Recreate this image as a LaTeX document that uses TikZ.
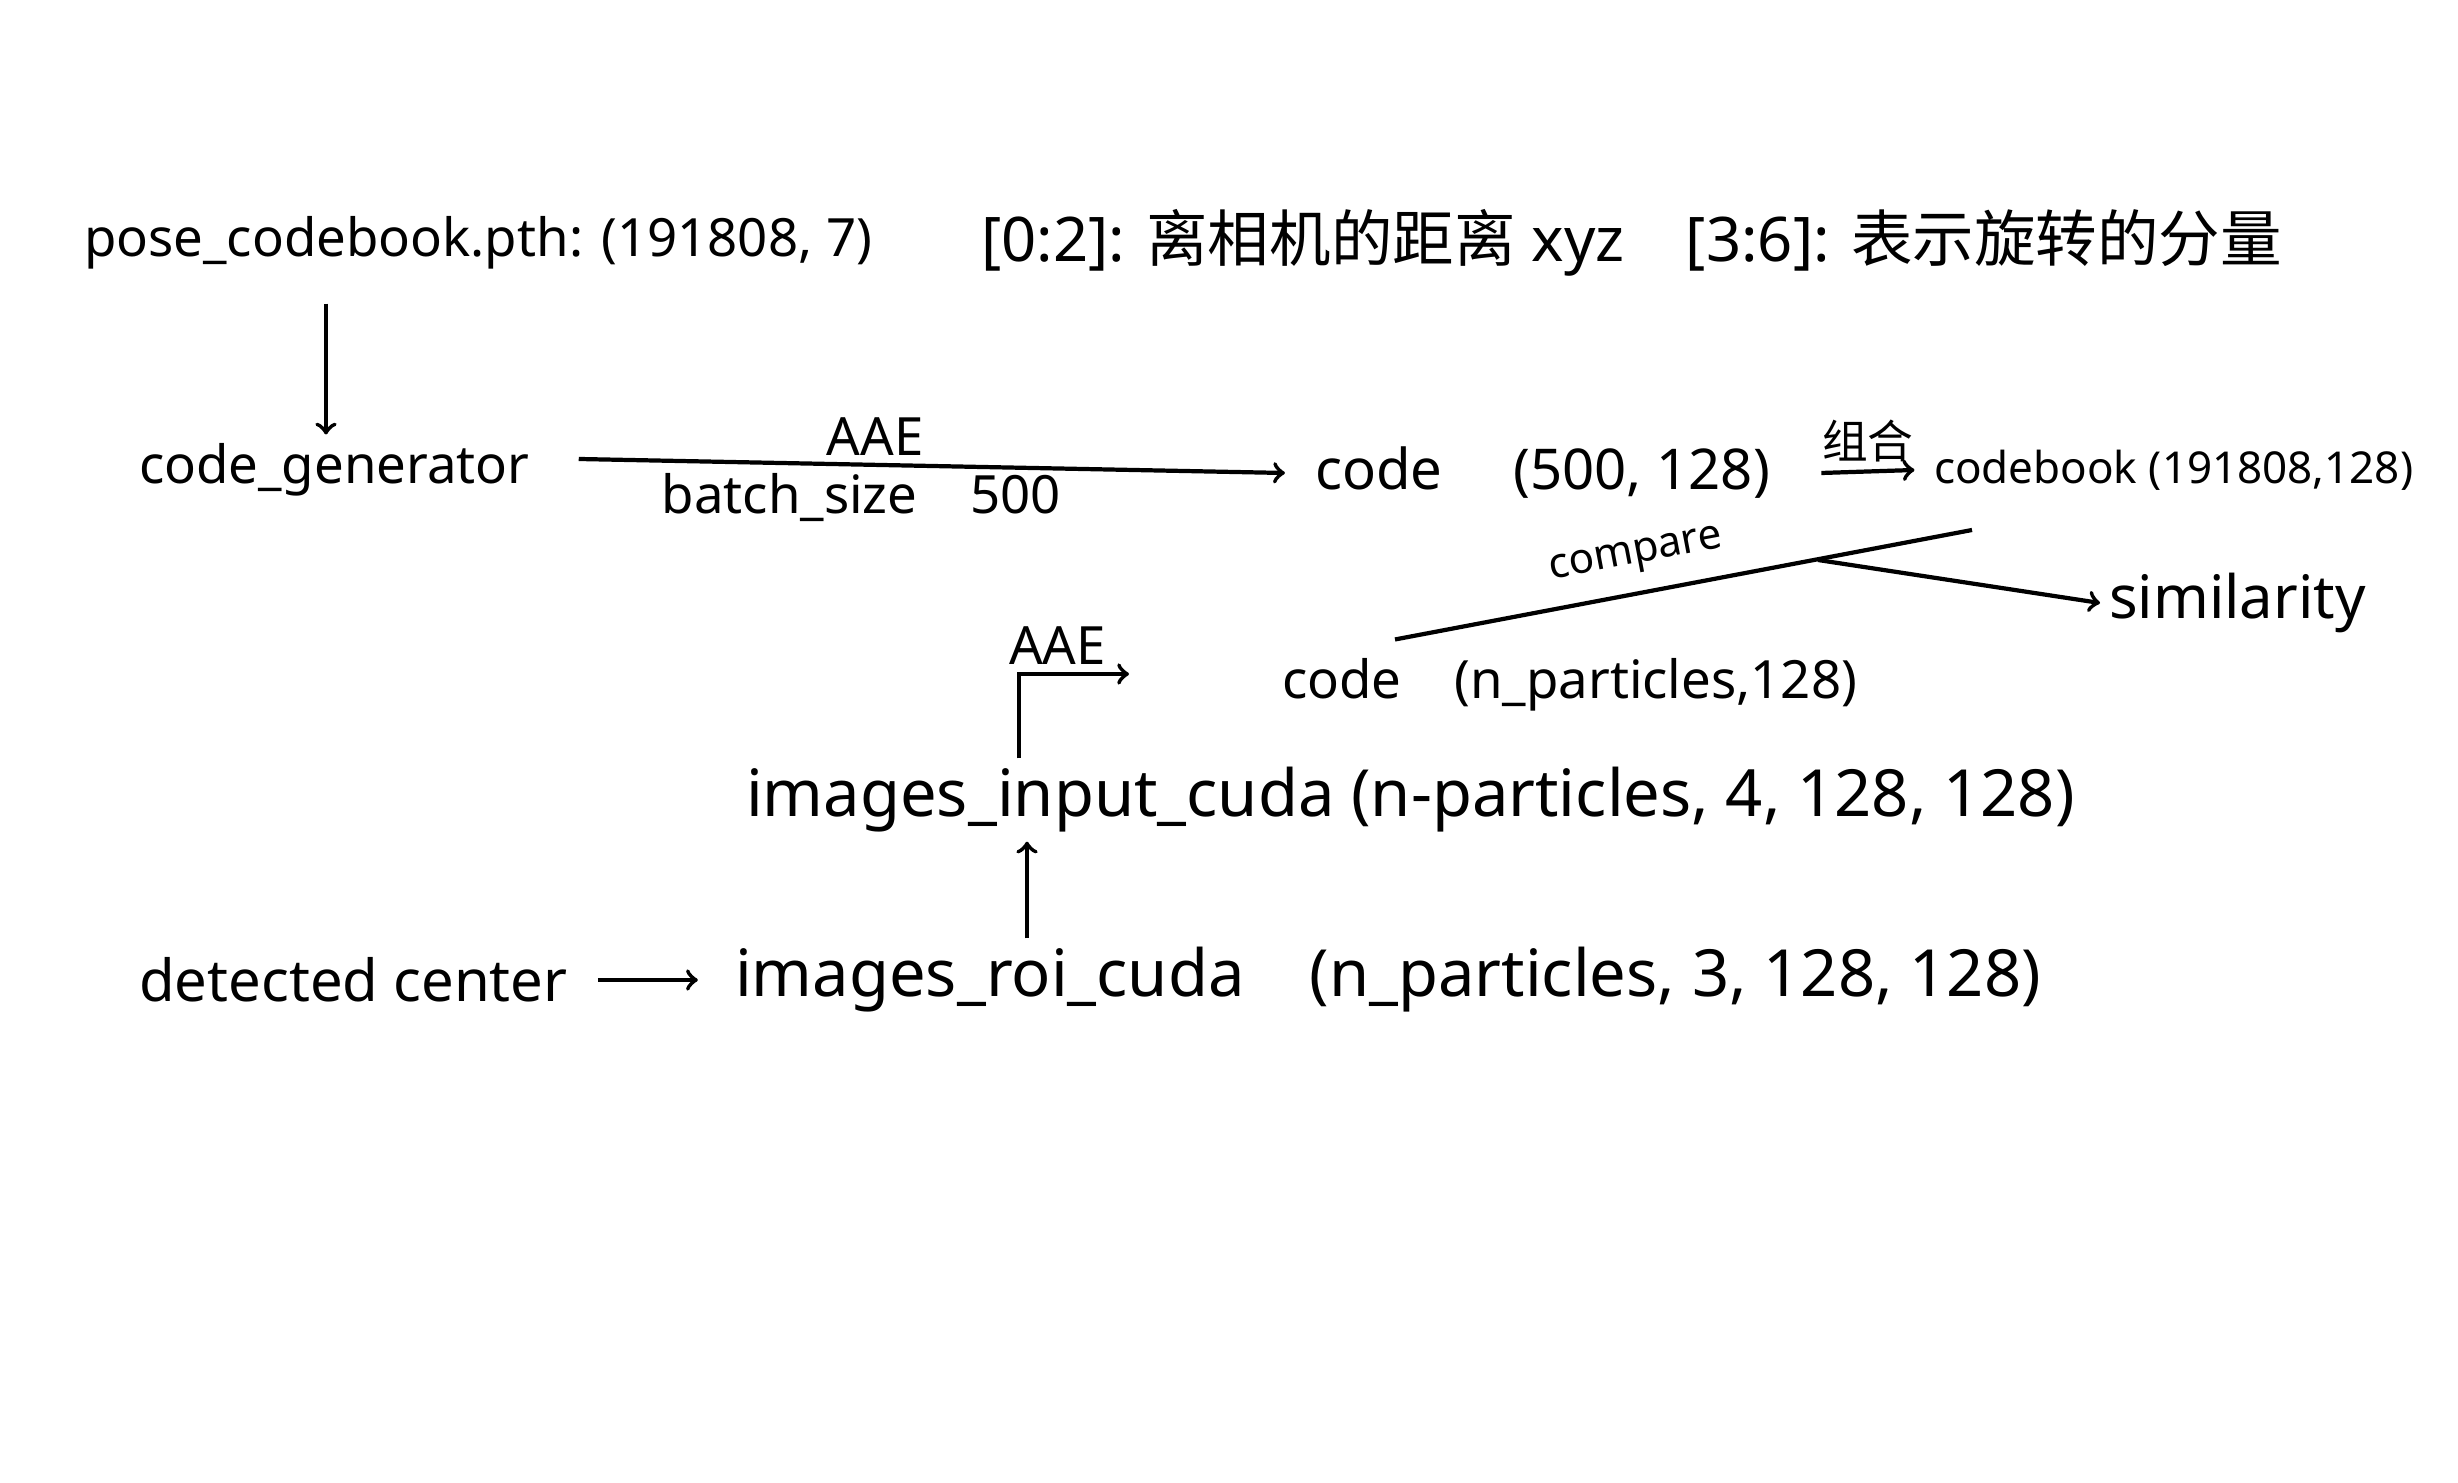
\documentclass[tikz,border=0pt]{standalone}
\usepackage{fontspec}
\setmainfont{Noto Sans}
\newfontfamily\cjk{Noto Sans CJK SC}
\usetikzlibrary{positioning}

\begin{document}
\begin{tikzpicture}[x=0.01cm, y=-0.01cm, line width=1.2pt,
  txt/.style={inner sep=2pt, font=\fontsize{#1}{#1}\selectfont}, txt/.default=15]
  \useasboundingbox (0,0) rectangle (2458,1483);

  \node[txt, anchor=west] (pose) at (75,243) {pose\_codebook.pth: (191808, 7)};
  \node[txt=17.5, anchor=west] (note) at (972,243) {[0:2]: {\cjk 离相机的距离} xyz\quad [3:6]: {\cjk 表示旋转的分量}};
  \node[txt, anchor=west] (gen) at (130,470) {code\_generator};
  \node[txt=16, anchor=west] (code1) at (1306,473) {code\quad\ (500, 128)};
  \node[txt=12.5, anchor=west] (book) at (1925,470) {codebook (191808,128)};
  \node[txt, anchor=west] (code2) at (1273,685) {code\quad (n\_particles,128)};
  \node[txt=17, anchor=west] (sim) at (2100,603) {similarity};
  \node[txt=18.5, anchor=west] (input) at (737,800) {images\_input\_cuda (n-particles, 4, 128, 128)};
  \node[txt=16.5, anchor=west] (det) at (130,980) {detected center};
  \node[txt=18.5, anchor=west] (roi) at (726,980) {images\_roi\_cuda\quad (n\_particles, 3, 128, 128)};

  \draw[->] (pose.south -| 326,0) ++(0,25) -- (gen.north -| 326,0);
  \draw[->] (gen.east) ++(40,-11) -- node[txt, above, pos=0.42] {AAE} node[txt, below, pos=0.4] {batch\_size\quad 500} ([xshift=-6]code1.west);
  \draw[->] ([xshift=12pt]code1.east) -- node[txt=13, above] {\cjk 组合} ([xshift=-3pt]book.west);

  % compare
  \coordinate (join) at (1818,560);
  \draw (code2.north -| 1395,0) ++(0,-10) coordinate (cstart) -- node[txt=12, above=3pt, sloped, pos=0.43] {compare} (1972,530);
  \draw[->] (join) -- (sim.west);

  % AAE on input
  \coordinate (aaeend) at (1129,674);
  \draw[->] (input.north -| 1019,0) -- (1019,674) -- node[txt, above, pos=0.35] {AAE} (aaeend);

  \draw[->] (roi.north -| 1027,0) -- (input.south -| 1027,0);
  \draw[->] ([xshift=6pt]det.east) -- ([xshift=-8pt]roi.west);
\end{tikzpicture}
\end{document}
